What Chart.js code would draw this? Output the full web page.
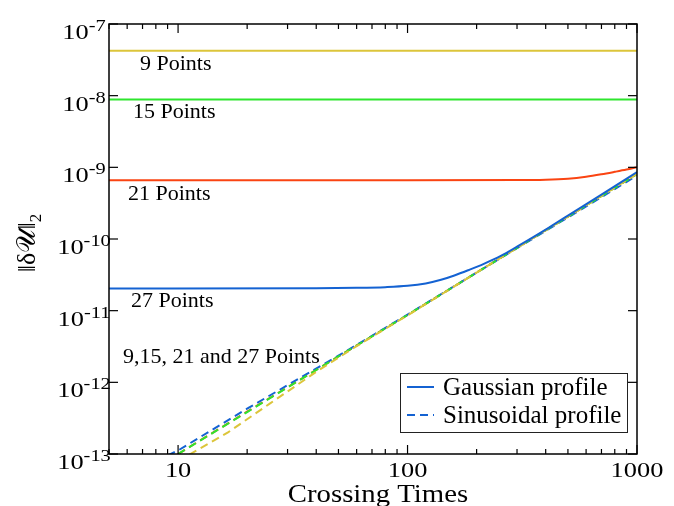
<!DOCTYPE html>
<html>
<head>
<meta charset="utf-8">
<script src="https://cdn.jsdelivr.net/npm/chart.js@4.4.1/dist/chart.umd.min.js"></script>
<style>
  html, body { margin: 0; padding: 0; background: #fff; }
  #wrap { width: 674px; height: 506px; }
</style>
</head>
<body>
<div id="wrap"><canvas id="errChart" width="674" height="506"></canvas></div>
<script>
// values (log-log)
const flatT = [5, 1000];
const gauss9 = [4.23e-8, 4.23e-8];
const gauss15 = [8.87e-9, 8.87e-9];

const gaussT21 = [5, 100, 300, 400, 500, 600, 700, 800, 900, 1000];
const gauss21 = [6.62e-10, 6.62e-10, 6.64e-10, 6.72e-10, 6.95e-10, 7.4e-10, 8.0e-10, 8.65e-10, 9.3e-10, 1.0e-9];

const gaussT27 = [5, 40, 60, 80, 100, 120, 140, 160, 185, 215, 255, 300, 400, 500, 700, 1000];
const gauss27 = [2.04e-11, 2.05e-11, 2.08e-11, 2.13e-11, 2.22e-11, 2.4e-11, 2.7e-11, 3.1e-11, 3.7e-11, 4.5e-11, 5.8e-11, 7.8e-11, 1.35e-10, 2.12e-10, 4.15e-10, 8.6e-10];

const sinT = [8, 10, 20, 50, 100, 200, 500, 1000];
const sin15 = [6.4e-14, 1.0e-13, 3.85e-13, 2.3e-12, 8.7e-12, 3.4e-11, 2.05e-10, 8.05e-10];
const sin21 = [6.5e-14, 1.0e-13, 3.9e-13, 2.3e-12, 8.7e-12, 3.4e-11, 2.05e-10, 8.1e-10];
const sin27 = [8.0e-14, 1.12e-13, 4.3e-13, 2.35e-12, 8.8e-12, 3.4e-11, 2.0e-10, 7.7e-10];

const sinT9 = [10, 11.3, 16.5, 25, 40, 60, 100, 200, 500, 1000];
const sin9 = [0.8e-13, 1.0e-13, 2.0e-13, 5.0e-13, 1.4e-12, 3.2e-12, 8.6e-12, 3.4e-11, 2.05e-10, 8.1e-10];

const xMajor = [10, 100, 1000];
const xLabels = ['10', '100', '1000'];
const xMinor = [5, 6, 7, 8, 9, 20, 30, 40, 50, 60, 70, 80, 90, 200, 300, 400, 500, 600, 700, 800, 900];
const yMajor = [1e-7, 1e-8, 1e-9, 1e-10, 1e-11, 1e-12, 1e-13];
const yExp = ['-7', '-8', '-9', '-10', '-11', '-12', '-13'];

const YELLOW = '#dcc53a';
const GREEN = '#2ee62e';
const RED = '#fa4412';
const BLUE = '#1462d2';
const SERIF = '"Liberation Serif", "DejaVu Serif", serif';

const mk = (ts, vs) => ts.map((t, i) => ({ x: t, y: vs[i] }));

function solid(data, color, label) {
  return { label, data, borderColor: color, borderWidth: 2, pointRadius: 0, cubicInterpolationMode: 'monotone', fill: false };
}
function dashed(data, color, label) {
  return { label, data, borderColor: color, borderWidth: 2, pointRadius: 0, borderDash: [8, 5], fill: false };
}

function text(ctx, str, x, y, size, align, sx) {
  ctx.save();
  ctx.font = size + 'px ' + SERIF;
  ctx.translate(x, y);
  ctx.scale(sx || 1, 1);
  ctx.textAlign = align || 'left';
  ctx.textBaseline = 'alphabetic';
  ctx.fillText(str, 0, 0);
  ctx.restore();
}

const frame = {
  id: 'frame',
  afterDatasetsDraw(chart) {
    const { ctx, chartArea: a, scales: { x, y } } = chart;
    const seg = (x1, y1, x2, y2) => { ctx.beginPath(); ctx.moveTo(x1, y1); ctx.lineTo(x2, y2); ctx.stroke(); };
    ctx.save();
    ctx.strokeStyle = '#000';
    ctx.fillStyle = '#000';
    ctx.lineWidth = 1.5;
    ctx.strokeRect(a.left, a.top, a.right - a.left, a.bottom - a.top);

    ctx.lineWidth = 1.2;
    xMinor.forEach(v => {
      const px = x.getPixelForValue(v);
      seg(px, a.bottom, px, a.bottom - 5);
      seg(px, a.top, px, a.top + 5);
    });
    xMajor.forEach((v, i) => {
      const px = x.getPixelForValue(v);
      seg(px, a.bottom, px, a.bottom - 9);
      seg(px, a.top, px, a.top + 9);
      text(ctx, xLabels[i], px, a.bottom + 23, 22, 'center', 1.2);
    });
    yMajor.forEach((v, i) => {
      const py = y.getPixelForValue(v);
      seg(a.left, py, a.left + 9, py);
      seg(a.right, py, a.right - 9, py);
      // "10" with superscript exponent, centred as a group
      ctx.font = '22px ' + SERIF;
      const wBase = ctx.measureText('10').width * 1.2;
      ctx.font = '17px ' + SERIF;
      const wExp = ctx.measureText(yExp[i]).width * 1.2;
      const left = 84 - (wBase + wExp) / 2;
      text(ctx, '10', left, py + 15, 22, 'left', 1.2);
      text(ctx, yExp[i], left + wBase, py + 7, 17, 'left', 1.2);
    });

    // axis titles
    text(ctx, 'Crossing Times', 378, 502, 25, 'center', 1.15);

    ctx.save();
    ctx.translate(27, 243);
    ctx.rotate(-Math.PI / 2);
    const parts = [['\u2016\u03b4', 26, 0], ['\ud835\udcb0', 26, 0], ['\u2016', 26, 0], ['2', 17, 6]];
    let total = 0;
    parts.forEach(p => { ctx.font = p[1] + 'px ' + SERIF; p.push(ctx.measureText(p[0]).width); total += p[3]; });
    let cx = -total / 2;
    parts.forEach(p => {
      ctx.font = p[1] + 'px ' + SERIF;
      ctx.fillText(p[0], cx, 8 + p[2]);
      cx += p[3];
    });
    ctx.restore();

    // curve annotations
    text(ctx, '9 Points', 140, 70, 22);
    text(ctx, '15 Points', 133, 118, 22);
    text(ctx, '21 Points', 128, 200, 22);
    text(ctx, '27 Points', 131, 307, 22);
    text(ctx, '9,15, 21 and 27 Points', 123, 363, 22);

    // legend
    ctx.fillStyle = '#fff';
    ctx.fillRect(400, 373, 227, 59);
    ctx.lineWidth = 1;
    ctx.strokeStyle = '#222';
    ctx.strokeRect(400.5, 373.5, 227, 59);
    ctx.strokeStyle = BLUE;
    ctx.lineWidth = 2;
    seg(407, 387, 434, 387);
    ctx.setLineDash([8, 5]);
    seg(407, 415, 434, 415);
    ctx.setLineDash([]);
    ctx.fillStyle = '#000';
    text(ctx, 'Gaussian profile', 443, 395, 25);
    text(ctx, 'Sinusoidal profile', 443, 423, 25);
    ctx.restore();
  }
};

new Chart(document.getElementById('errChart'), {
  type: 'line',
  data: {
    datasets: [
      solid(mk(flatT, gauss9), YELLOW, '9 Points Gaussian'),
      solid(mk(flatT, gauss15), GREEN, '15 Points Gaussian'),
      solid(mk(gaussT21, gauss21), RED, '21 Points Gaussian'),
      solid(mk(gaussT27, gauss27), BLUE, '27 Points Gaussian'),
      dashed(mk(sinT9, sin9), YELLOW, '9 Points Sinusoidal'),
      dashed(mk(sinT, sin15), GREEN, '15 Points Sinusoidal'),
      dashed(mk(sinT, sin27), BLUE, '27 Points Sinusoidal'),
      dashed(mk(sinT, sin21), RED, '21 Points Sinusoidal')
    ]
  },
  options: {
    responsive: false,
    animation: false,
    devicePixelRatio: 1,
    layout: { padding: { left: 109, top: 24, right: 37, bottom: 52 } },
    plugins: { legend: { display: false }, tooltip: { enabled: false } },
    scales: {
      x: { type: 'logarithmic', min: 5, max: 1000, display: false },
      y: { type: 'logarithmic', min: 1e-13, max: 1e-7, display: false }
    }
  },
  plugins: [frame]
});
</script>
</body>
</html>
